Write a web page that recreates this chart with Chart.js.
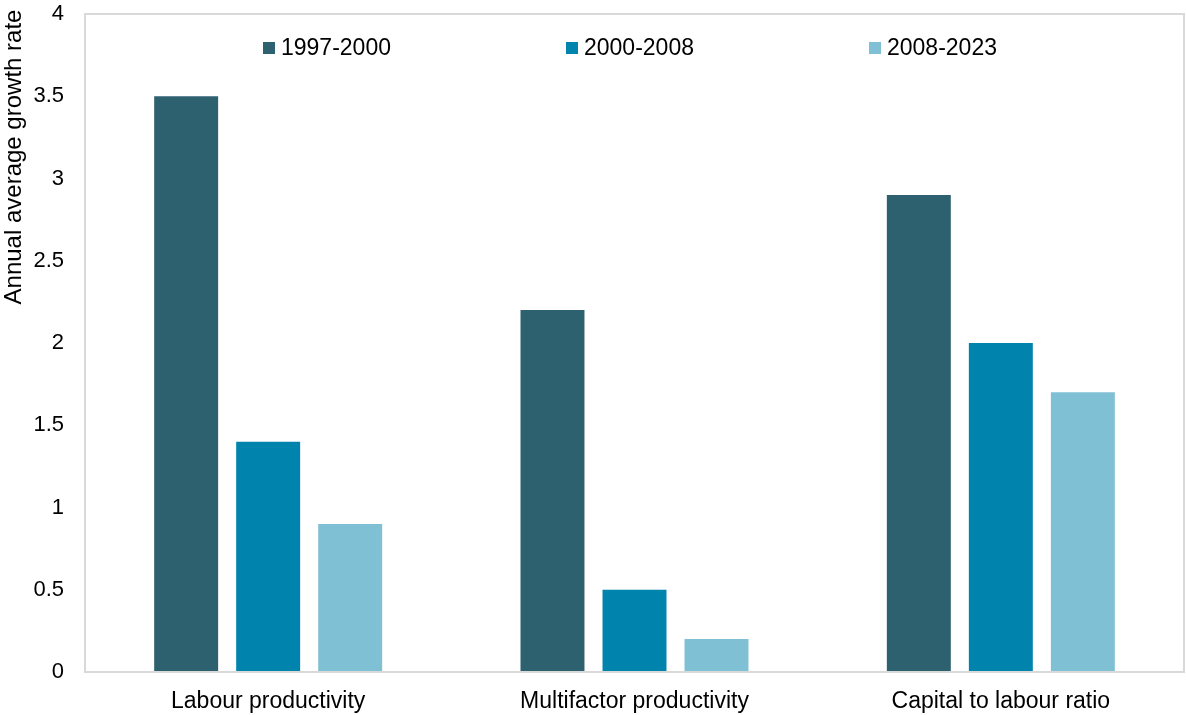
<!DOCTYPE html>
<html>
<head>
<meta charset="utf-8">
<script src="https://cdn.jsdelivr.net/npm/chart.js@4/dist/chart.umd.min.js"></script>
<style>
  html, body { margin: 0; padding: 0; background: #ffffff; }
  #wrap { width: 1186px; height: 715px; position: relative; }
</style>
</head>
<body>
<div id="wrap"><canvas id="chart"></canvas></div>
<script>
// Growth components, annual average growth rate (%)
const categories = ['Labour productivity', 'Multifactor productivity', 'Capital to labour ratio'];
const periods = ['1997-2000', '2000-2008', '2008-2023'];
const growth1997to2000 = [3.5, 2.2, 2.9];
const growth2000to2008 = [1.4, 0.5, 2.0];
const growth2008to2023 = [0.9, 0.2, 1.7];
const periodColors = ['#2d6170', '#0084ad', '#80c0d5'];
const yAxisTitle = 'Annual average growth rate';

const FONT = "'Liberation Sans', Arial, sans-serif";

// Light grey frame round the plot area
const frame = {
  id: 'frame',
  afterDraw(chart) {
    const { ctx, chartArea: a } = chart;
    ctx.save();
    ctx.strokeStyle = '#d9d9d9';
    ctx.lineWidth = 2;
    ctx.strokeRect(a.left, a.top, a.right - a.left, a.bottom - a.top);
    ctx.restore();
  }
};

// Legend row drawn inside the top of the plot area
const insideLegend = {
  id: 'insideLegend',
  afterDraw(chart) {
    const { ctx, chartArea: a } = chart;
    ctx.save();
    ctx.font = '23px ' + FONT;
    ctx.textBaseline = 'middle';
    ctx.textAlign = 'left';
    chart.data.datasets.forEach((ds, i) => {
      const x = a.left + 178 + i * 303;
      const y = a.top + 34;
      ctx.fillStyle = ds.backgroundColor;
      ctx.fillRect(x, y - 6, 12, 12);
      ctx.fillStyle = '#000000';
      ctx.fillText(ds.label, x + 18, y + 1);
    });
    ctx.restore();
  }
};

// Rotated value-axis title
const axisTitle = {
  id: 'axisTitle',
  afterDraw(chart) {
    const { ctx } = chart;
    ctx.save();
    ctx.translate(14, 157);
    ctx.rotate(-Math.PI / 2);
    ctx.font = '24px ' + FONT;
    ctx.fillStyle = '#000000';
    ctx.textAlign = 'center';
    ctx.textBaseline = 'middle';
    ctx.fillText(yAxisTitle, 0, 0);
    ctx.restore();
  }
};

const seriesValues = [growth1997to2000, growth2000to2008, growth2008to2023];

new Chart(document.getElementById('chart'), {
  type: 'bar',
  data: {
    labels: categories,
    datasets: periods.map((p, i) => ({
      label: p,
      data: seriesValues[i],
      backgroundColor: periodColors[i],
      borderWidth: 0,
      categoryPercentage: 0.6716,
      barPercentage: 0.78
    }))
  },
  options: {
    responsive: true,
    maintainAspectRatio: false,
    animation: false,
    layout: { padding: { top: 14, right: 2, left: 0, bottom: 0 }, autoPadding: false },
    plugins: {
      legend: { display: false },
      tooltip: { enabled: false }
    },
    scales: {
      x: {
        grid: { display: false, drawTicks: false },
        border: { display: false },
        ticks: {
          color: '#000000',
          padding: 16,
          maxRotation: 0,
          font: { family: FONT, size: 23 }
        },
        afterFit(scale) { scale.height = 43; scale.paddingLeft = 0; scale.paddingRight = 0; }
      },
      y: {
        min: 0,
        max: 4,
        grid: { display: false, drawTicks: false },
        border: { display: false },
        ticks: {
          stepSize: 0.5,
          color: '#000000',
          padding: 21,
          font: { family: FONT, size: 22 },
          callback: (v) => String(v)
        },
        afterFit(scale) { scale.width = 85; scale.paddingTop = 0; scale.paddingBottom = 0; }
      }
    }
  },
  plugins: [frame, insideLegend, axisTitle]
});
</script>
</body>
</html>
